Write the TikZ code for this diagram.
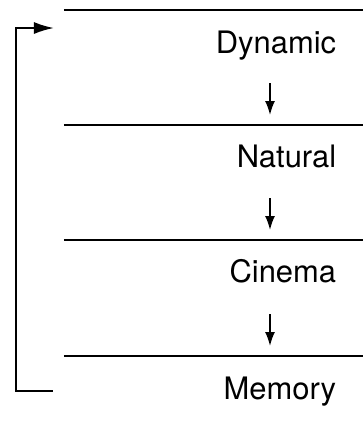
\documentclass[tikz,border=0pt]{standalone}
\usepackage{fontspec}
\setmainfont{TeX Gyre Heros}
\usetikzlibrary{arrows.meta}

\begin{document}
\begin{tikzpicture}[font=\fontsize{17.6}{20}\selectfont,
  layer/.style={anchor=base east, inner sep=0pt},
  sep/.style={line width=1.3pt},
  arr/.style={-{Latex[length=2.8mm,width=2mm]}, line width=1pt},
  loop/.style={-{Latex[length=4mm,width=2.4mm]}, line width=1.2pt}
]
  \useasboundingbox (0,0) rectangle (7.26,-8.56);

  % --- Couches ---
  \draw[sep] (1.28,-0.2)  -- (7.26,-0.2);
  \node[layer] (dyn) at (6.73,-1.06) {Dynamic};

  \draw[sep] (1.28,-2.5)  -- (7.26,-2.5);
  \node[layer] (nat) at (6.73,-3.34) {Natural};

  \draw[sep] (1.28,-4.8)  -- (7.26,-4.8);
  \node[layer] (cin) at (6.73,-5.64) {Cinema};

  \draw[sep] (1.28,-7.12) -- (7.26,-7.12);
  \node[layer] (mem) at (6.73,-7.98) {Memory};

  % --- Fleches entre couches ---
  \coordinate (dynout) at (5.4,-1.66);
  \coordinate (natin)  at (5.4,-2.3);
  \coordinate (natout) at (5.4,-3.96);
  \coordinate (cinin)  at (5.4,-4.6);
  \coordinate (cinout) at (5.4,-6.28);
  \coordinate (memin)  at (5.4,-6.92);
  \draw[arr] (dynout) -- (natin);
  \draw[arr] (natout) -- (cinin);
  \draw[arr] (cinout) -- (memin);

  % --- Retour ---
  \coordinate (back) at (1.06,-7.82);
  \coordinate (top)  at (1.08,-0.56);
  \draw[loop] (back) -| (0.32,-4) |- (top);
\end{tikzpicture}
\end{document}
